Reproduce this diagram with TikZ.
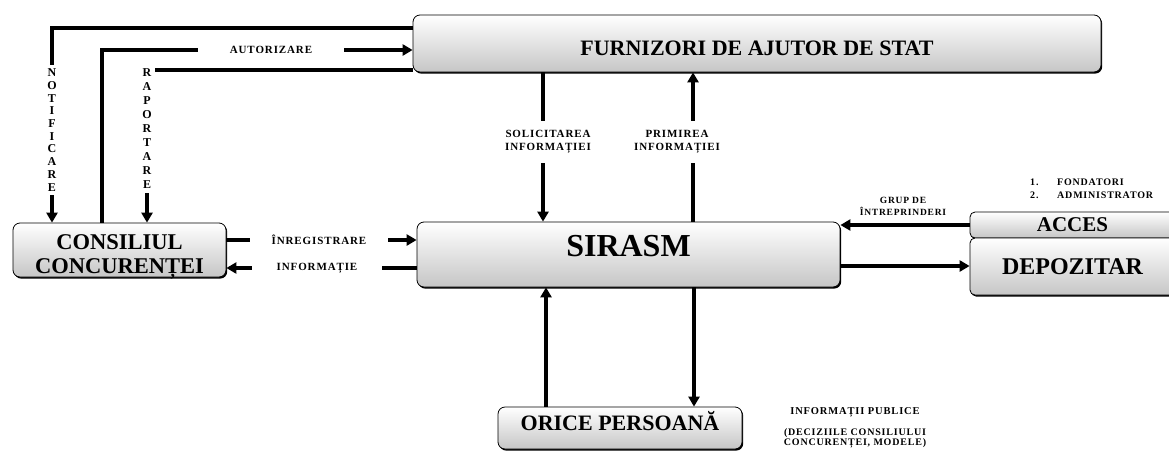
\documentclass[tikz,border=0pt]{standalone}
\usepackage{fontspec}
\setmainfont{Liberation Serif}
\newfontfamily\lblfont[LetterSpace=8]{Liberation Serif}
\usetikzlibrary{arrows.meta,shadows}
\tikzset{
  box/.style={draw=black, line width=0.8pt, rounded corners=7pt,
    top color=white, middle color=white, bottom color=gray!45,
    drop shadow={shadow xshift=1.2pt, shadow yshift=-1.6pt, fill=black, opacity=1},
    inner sep=0pt, font=\bfseries, align=center},
  conn/.style={line width=3.8pt, -{Triangle[length=10pt,width=11pt]}},
  lab/.style={font=\lblfont\bfseries\fontsize{11}{13}\selectfont, fill=white, align=center},
  vlab/.style={font=\bfseries\fontsize{12}{12.7}\selectfont, fill=white, align=center, inner xsep=3pt, inner ysep=4pt},
  note/.style={font=\lblfont\bfseries\fontsize{9.5}{12}\selectfont, align=center, inner sep=0pt},
}
\begin{document}
\begin{tikzpicture}[x=1pt,y=-1pt]
\useasboundingbox (0,0) rectangle (1169,450);
% boxes
\node[box, minimum width=688pt, minimum height=57pt, text height=23.6pt, text depth=0pt,
  font=\bfseries\fontsize{22}{24}\selectfont] (furn) at (757,43.5) {FURNIZORI DE AJUTOR DE STAT};
\node[box, minimum width=423pt, minimum height=65pt, text height=21.2pt, text depth=18pt,
  font=\bfseries\fontsize{32}{34}\selectfont] (sirasm) at (628.5,254.5) {SIRASM};
\node[box, minimum width=213pt, minimum height=54pt, text height=46pt, text depth=0pt,
  font=\bfseries\fontsize{22.5}{24}\selectfont] (cons) at (119.5,250) {CONSILIUL\\CONCURENȚEI};
\node[box, rounded corners=5pt, minimum width=205pt, minimum height=26pt,
  font=\bfseries\fontsize{21}{23}\selectfont] (acces) at (1072.5,225) {ACCES};
\node[box, rounded corners=5pt, minimum width=205pt, minimum height=57pt,
  font=\bfseries\fontsize{24}{26}\selectfont] (depoz) at (1072.5,266.5) {DEPOZITAR};
\node[box, minimum width=244pt, minimum height=42pt, text height=14.6pt, text depth=10pt,
  font=\bfseries\fontsize{22}{24}\selectfont] (orice) at (620,428) {ORICE PERSOANĂ};
% connectors with Consiliul
\draw[conn] (furn.west |- 0,28) -| (cons.north -| 52,0);
\node[vlab] (notif) at (52,130) {N\\O\\T\\I\\F\\I\\C\\A\\R\\E};
\draw[conn] (cons.north -| 102,0) |- (furn.west |- 0,50);
\node[lab, inner xsep=32pt, inner ysep=2pt] (autor) at (271,50) {AUTORIZARE};
\draw[conn] (furn.west |- 0,70) -| (cons.north -| 147,0);
\node[vlab, font=\bfseries\fontsize{12}{14}\selectfont] (rap) at (147,129) {R\\A\\P\\O\\R\\T\\A\\R\\E};
\draw[conn] (cons.east |- 0,240) -- (sirasm.west |- 0,240);
\node[lab, inner xsep=22pt, inner ysep=2pt] (inreg) at (319,240) {ÎNREGISTRARE};
\draw[conn] (sirasm.west |- 0,268) -- (cons.east |- 0,268);
\node[lab, inner xsep=25pt, inner ysep=2pt] (infor) at (317,268) {INFORMAȚIE};
% Furnizori <-> SIRASM
\draw[conn] (furn.south -| 543,0) -- (sirasm.north -| 543,0);
\node[lab, inner xsep=2pt, inner ysep=9pt] (solic) at (548,142) {SOLICITAREA\\INFORMAȚIEI};
\draw[conn] (sirasm.north -| 693,0) -- (furn.south -| 693,0);
\node[lab, inner xsep=2pt, inner ysep=9pt] (prim) at (677,142) {PRIMIREA\\INFORMAȚIEI};
% SIRASM <-> Orice persoana
\draw[conn] (orice.north -| 546,0) -- (sirasm.south -| 546,0);
\draw[conn] (sirasm.south -| 694,0) -- (orice.north -| 694,0);
% SIRASM <-> Acces / Depozitar
\draw[conn] (acces.west) -- (sirasm.east |- acces.west);
\draw[conn] (sirasm.east |- 0,266) -- (depoz.west |- 0,266);
% notes
\node[note] (grup) at (903,206.5) {GRUP DE\\ÎNTREPRINDERI};
\node[note, anchor=west, align=left, font=\lblfont\bfseries\fontsize{10}{12.5}\selectfont] (fond) at (1030,189)
  {\makebox[27pt][l]{1.}FONDATORI\\\makebox[27pt][l]{2.}ADMINISTRATOR};
\node[note, font=\lblfont\bfseries\fontsize{10.5}{12}\selectfont] (infpub) at (855,412) {INFORMAȚII PUBLICE};
\node[note, font=\lblfont\bfseries\fontsize{10}{10}\selectfont] (decizii) at (855,438.5) {(DECIZIILE CONSILIULUI\\CONCURENȚEI, MODELE)};
\end{tikzpicture}
\end{document}
